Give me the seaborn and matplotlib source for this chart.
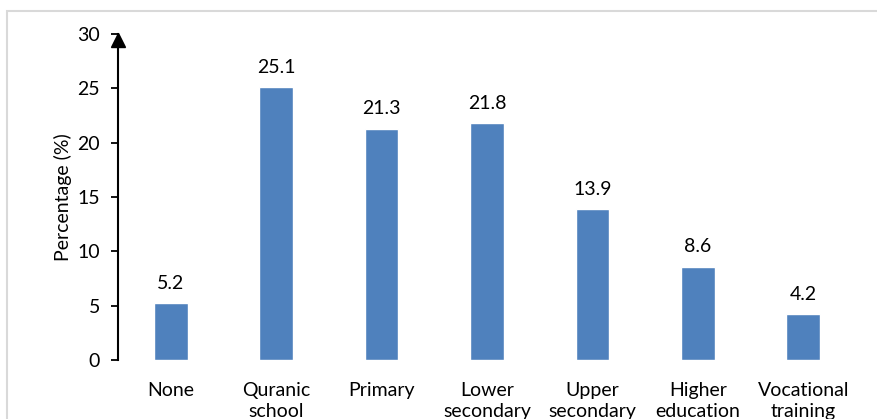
import matplotlib
matplotlib.use("Agg")
import matplotlib.pyplot as plt
from matplotlib.patches import Rectangle
import seaborn as sns

# data
categories = ["None", "Quranic\nschool", "Primary", "Lower\nsecondary",
              "Upper\nsecondary", "Higher\neducation", "Vocational\ntraining"]
percentages = [5.2, 25.1, 21.3, 21.8, 13.9, 8.6, 4.2]
y_ticks = [0, 5, 10, 15, 20, 25, 30]

sns.set_theme(style="white")
plt.rcParams["font.family"] = ["Lato", "DejaVu Sans"]

FS = 14

fig = plt.figure(figsize=(8.77, 4.19), dpi=100)
ax = fig.add_axes([118 / 877, 1 - 360 / 419, (856 - 118) / 877, (360 - 34) / 419])

# light frame around the chart area (cut off at the right and bottom)
fig.patches.append(Rectangle((7 / 877, -0.2), 1.2, 1.2 - 11 / 419,
                             transform=fig.transFigure, fill=False,
                             edgecolor="#d9d9d9", linewidth=1.5))

sns.barplot(x=categories, y=percentages, color="#4f81bd", saturation=1,
            width=0.32, ax=ax)

for c in ax.containers:
    ax.bar_label(c, fmt="%.1f", padding=8, fontsize=FS, color="black")

ax.set_xlim(-0.5, 6.5)
ax.set_ylim(0, 30)
ax.set_yticks(y_ticks)
ax.set_ylabel("Percentage (%)", fontsize=FS, labelpad=4, color="black")

ax.tick_params(axis="y", which="major", length=5, width=1.3, direction="out",
               left=True, pad=8, labelsize=FS, colors="black")
ax.tick_params(axis="x", length=0, pad=16, labelsize=FS, colors="black")
for lbl in ax.get_xticklabels():
    lbl.set_linespacing(1.3)

for side in ["top", "right", "bottom"]:
    ax.spines[side].set_visible(False)
ax.spines["left"].set_color("black")
ax.spines["left"].set_linewidth(1.5)

# arrow head on top of the y axis
ax.plot([0], [0.982], marker="^", markersize=10, color="black",
        transform=ax.transAxes, clip_on=False)

fig.savefig("out.png", dpi=100)
